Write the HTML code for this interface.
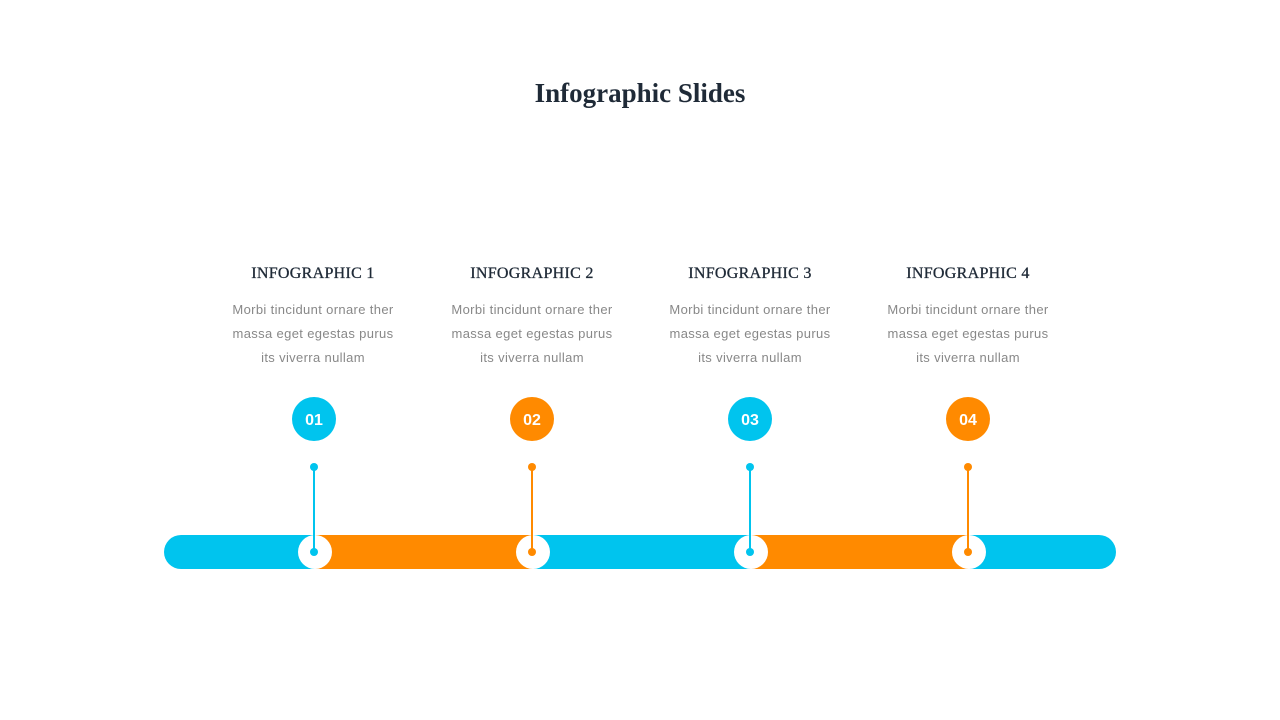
<!DOCTYPE html>
<html><head><meta charset="utf-8"><style>
body{margin:0;width:1280px;height:720px;background:#fff;position:relative;overflow:hidden;font-family:"Liberation Sans",sans-serif}
.t{position:absolute;top:78px;left:0;width:1280px;text-align:center;font-family:"Liberation Serif",serif;font-size:27px;color:#1f2a37;font-weight:bold}
.col{position:absolute;top:265px;width:200px;text-align:center}
.col h3{margin:0;font-family:"Liberation Serif",serif;font-size:16px;font-weight:normal;color:#1f2a37;letter-spacing:0.3px;-webkit-text-stroke:0.3px #1f2a37}
.col p{margin:15px 0 0;font-size:13px;letter-spacing:0.35px;line-height:24px;color:#888}
</style></head><body>
<div class="t">Infographic Slides</div>
<div class="col" style="left:213px"><h3>INFOGRAPHIC 1</h3><p>Morbi tincidunt ornare ther<br>massa eget egestas purus<br>its viverra nullam</p></div>
<div class="col" style="left:432px"><h3>INFOGRAPHIC 2</h3><p>Morbi tincidunt ornare ther<br>massa eget egestas purus<br>its viverra nullam</p></div>
<div class="col" style="left:650px"><h3>INFOGRAPHIC 3</h3><p>Morbi tincidunt ornare ther<br>massa eget egestas purus<br>its viverra nullam</p></div>
<div class="col" style="left:868px"><h3>INFOGRAPHIC 4</h3><p>Morbi tincidunt ornare ther<br>massa eget egestas purus<br>its viverra nullam</p></div>
<svg width="1280" height="720" style="position:absolute;left:0;top:0">
<defs><clipPath id="c"><rect x="164" y="535" width="952" height="34" rx="17"/></clipPath></defs>
<g clip-path="url(#c)">
<rect x="164" y="535" width="151" height="34" fill="#00c4ee"/>
<rect x="315" y="535" width="218" height="34" fill="#ff8a00"/>
<rect x="533" y="535" width="218" height="34" fill="#00c4ee"/>
<rect x="751" y="535" width="218" height="34" fill="#ff8a00"/>
<rect x="969" y="535" width="147" height="34" fill="#00c4ee"/>
</g>
<g font-family="Liberation Sans,sans-serif" font-weight="bold" font-size="16" fill="#fff" text-anchor="middle">
<g><circle cx="315" cy="552" r="17" fill="#fff"/><line x1="314" y1="467" x2="314" y2="552" stroke="#00c4ee" stroke-width="2"/><circle cx="314" cy="467" r="4" fill="#00c4ee"/><circle cx="314" cy="552" r="4" fill="#00c4ee"/><circle cx="314" cy="419" r="22" fill="#00c4ee"/><text x="314" y="425">01</text></g>
<g><circle cx="533" cy="552" r="17" fill="#fff"/><line x1="532" y1="467" x2="532" y2="552" stroke="#ff8a00" stroke-width="2"/><circle cx="532" cy="467" r="4" fill="#ff8a00"/><circle cx="532" cy="552" r="4" fill="#ff8a00"/><circle cx="532" cy="419" r="22" fill="#ff8a00"/><text x="532" y="425">02</text></g>
<g><circle cx="751" cy="552" r="17" fill="#fff"/><line x1="750" y1="467" x2="750" y2="552" stroke="#00c4ee" stroke-width="2"/><circle cx="750" cy="467" r="4" fill="#00c4ee"/><circle cx="750" cy="552" r="4" fill="#00c4ee"/><circle cx="750" cy="419" r="22" fill="#00c4ee"/><text x="750" y="425">03</text></g>
<g><circle cx="969" cy="552" r="17" fill="#fff"/><line x1="968" y1="467" x2="968" y2="552" stroke="#ff8a00" stroke-width="2"/><circle cx="968" cy="467" r="4" fill="#ff8a00"/><circle cx="968" cy="552" r="4" fill="#ff8a00"/><circle cx="968" cy="419" r="22" fill="#ff8a00"/><text x="968" y="425">04</text></g>
</g>
</svg>
</body></html>
